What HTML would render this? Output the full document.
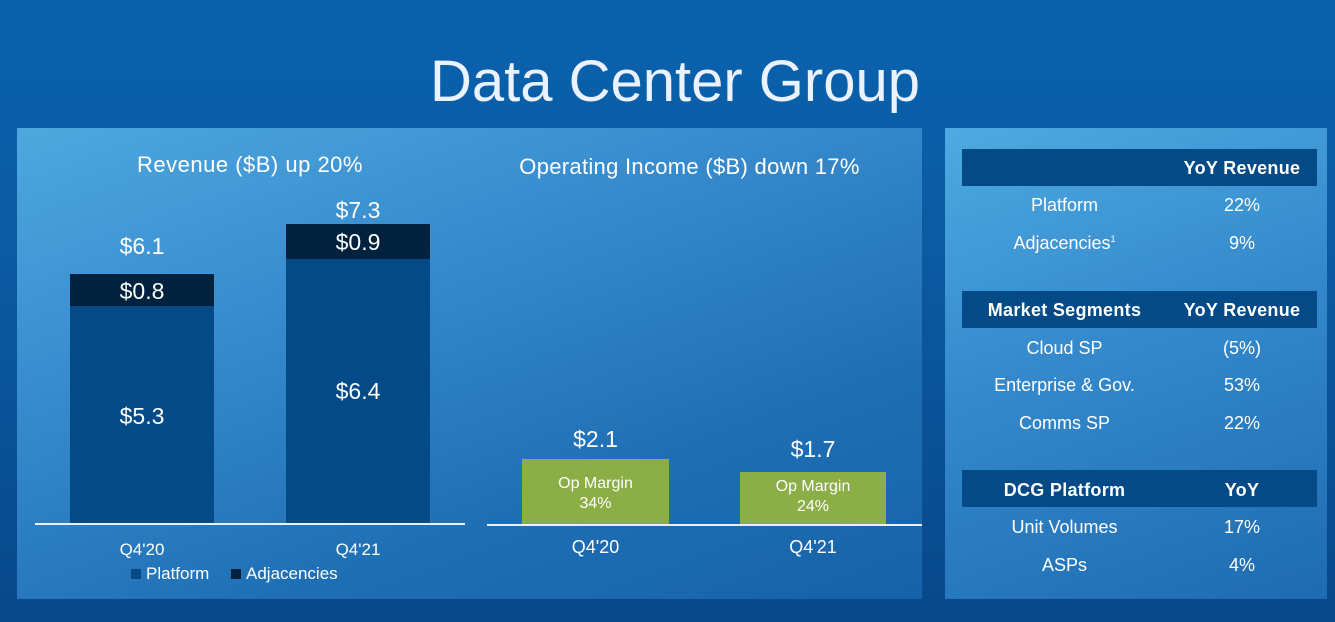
<!DOCTYPE html>
<html><head><style>
*{margin:0;padding:0;box-sizing:border-box}
body{width:1335px;height:622px;overflow:hidden;position:relative;font-family:"Liberation Sans",sans-serif;color:#fff;
background:linear-gradient(180deg,#0a62ad 0%,#0b5aa2 40%,#08488a 100%);}
.a{position:absolute}
.t{text-align:center;white-space:nowrap}
#p1{left:17px;top:128px;width:905px;height:471px;background:linear-gradient(160deg,#4ea8de 0%,#3a8fd0 30%,#1f6fb5 70%,#1662a8 100%)}
#p2{left:945px;top:128px;width:382px;height:471px;background:linear-gradient(160deg,#4eaae0 0%,#3489cc 45%,#1e6bb2 100%)}
.hb{left:962px;width:355px;height:37px;background:#034a87}
.dk{background:#01223f}.pl{background:#044a87}
.g{background:#8bae47}
.b{font-weight:bold;letter-spacing:0.3px}
</style></head><body>
<div class="a t" style="left:0;width:1350px;top:48px;font-size:58px;color:#eaf2ff">Data Center Group</div>
<div id="p1" class="a"></div>
<div id="p2" class="a"></div>
<div class="a t" style="left:70px;width:360px;top:152px;font-size:22px;letter-spacing:0.5px">Revenue ($B) up 20%</div>
<div class="a t" style="left:487px;width:405px;top:154px;font-size:22px;letter-spacing:0.3px">Operating Income ($B) down 17%</div>
<div class="a pl" style="left:70px;top:306px;width:144px;height:218px"></div>
<div class="a dk" style="left:70px;top:274px;width:144px;height:32px"></div>
<div class="a pl" style="left:286px;top:259px;width:144px;height:265px"></div>
<div class="a dk" style="left:286px;top:224px;width:144px;height:35px"></div>
<div class="a t" style="left:70px;width:144px;top:233px;font-size:23px">$6.1</div>
<div class="a t" style="left:70px;width:144px;top:278px;font-size:23px">$0.8</div>
<div class="a t" style="left:70px;width:144px;top:403px;font-size:23px">$5.3</div>
<div class="a t" style="left:286px;width:144px;top:197px;font-size:23px">$7.3</div>
<div class="a t" style="left:286px;width:144px;top:229px;font-size:23px">$0.9</div>
<div class="a t" style="left:286px;width:144px;top:378px;font-size:23px">$6.4</div>
<div class="a" style="left:35px;top:523px;width:430px;height:2px;background:#e8f0fa"></div>
<div class="a t" style="left:70px;width:144px;top:540px;font-size:17px">Q4'20</div>
<div class="a t" style="left:286px;width:144px;top:540px;font-size:17px">Q4'21</div>
<div class="a" style="left:131px;top:569px;width:10px;height:10px;background:#044a87"></div>
<div class="a" style="left:146px;top:564px;font-size:17px">Platform</div>
<div class="a" style="left:231px;top:569px;width:10px;height:10px;background:#01223f"></div>
<div class="a" style="left:246px;top:564px;font-size:17px">Adjacencies</div>
<div class="a g" style="left:522px;top:459px;width:147px;height:65px"></div>
<div class="a g" style="left:740px;top:472px;width:146px;height:52px"></div>
<div class="a t" style="left:522px;width:147px;top:426px;font-size:23px">$2.1</div>
<div class="a t" style="left:740px;width:146px;top:436px;font-size:23px">$1.7</div>
<div class="a t" style="left:522px;width:147px;top:474px;font-size:16px;line-height:20px">Op Margin<br>34%</div>
<div class="a t" style="left:740px;width:146px;top:477px;font-size:16px;line-height:20px">Op Margin<br>24%</div>
<div class="a" style="left:487px;top:524px;width:435px;height:2px;background:#e8f0fa"></div>
<div class="a t" style="left:522px;width:147px;top:537px;font-size:18px">Q4'20</div>
<div class="a t" style="left:740px;width:146px;top:537px;font-size:18px">Q4'21</div>
<div class="a hb" style="top:149px"></div>
<div class="a hb" style="top:291px"></div>
<div class="a hb" style="top:470px"></div>
<div class="a t b" style="left:1167px;width:150px;top:158px;font-size:18px">YoY Revenue</div>
<div class="a t" style="left:962px;width:205px;top:195px;font-size:18px">Platform</div>
<div class="a t" style="left:1167px;width:150px;top:195px;font-size:18px">22%</div>
<div class="a t" style="left:962px;width:205px;top:233px;font-size:18px">Adjacencies<sup style="font-size:9px">1</sup></div>
<div class="a t" style="left:1167px;width:150px;top:233px;font-size:18px">9%</div>
<div class="a t b" style="left:962px;width:205px;top:300px;font-size:18px">Market Segments</div>
<div class="a t b" style="left:1167px;width:150px;top:300px;font-size:18px">YoY Revenue</div>
<div class="a t" style="left:962px;width:205px;top:338px;font-size:18px">Cloud SP</div>
<div class="a t" style="left:1167px;width:150px;top:338px;font-size:18px">(5%)</div>
<div class="a t" style="left:962px;width:205px;top:375px;font-size:18px">Enterprise &amp; Gov.</div>
<div class="a t" style="left:1167px;width:150px;top:375px;font-size:18px">53%</div>
<div class="a t" style="left:962px;width:205px;top:413px;font-size:18px">Comms SP</div>
<div class="a t" style="left:1167px;width:150px;top:413px;font-size:18px">22%</div>
<div class="a t b" style="left:962px;width:205px;top:480px;font-size:18px">DCG Platform</div>
<div class="a t b" style="left:1167px;width:150px;top:480px;font-size:18px">YoY</div>
<div class="a t" style="left:962px;width:205px;top:517px;font-size:18px">Unit Volumes</div>
<div class="a t" style="left:1167px;width:150px;top:517px;font-size:18px">17%</div>
<div class="a t" style="left:962px;width:205px;top:555px;font-size:18px">ASPs</div>
<div class="a t" style="left:1167px;width:150px;top:555px;font-size:18px">4%</div>
</body></html>
